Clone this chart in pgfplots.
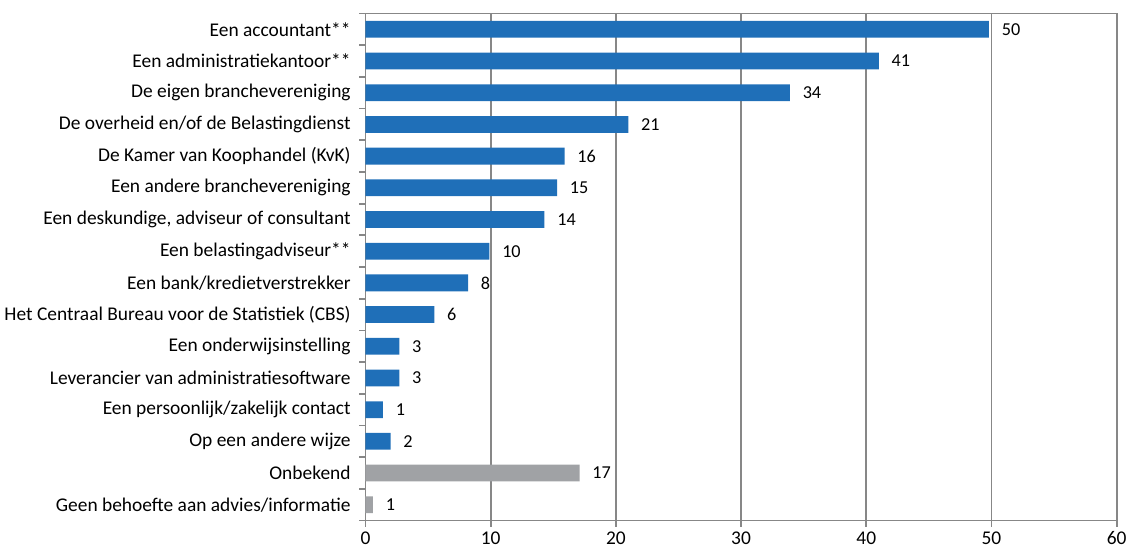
\documentclass[border=0pt]{standalone}
\usepackage{fontspec}
\setmainfont{Carlito}
\usepackage{pgfplots}
\usepackage{pgfplotstable}
\pgfplotsset{compat=1.18}
\definecolor{barblue}{HTML}{1F6FB8}
\definecolor{bargray}{HTML}{A0A2A5}
\definecolor{axgray}{HTML}{878787}
\pgfplotstableread{
y val lab
0 49.8 50
1 41.0 41
2 33.9 34
3 21.0 21
4 15.9 16
5 15.3 15
6 14.3 14
7 9.9 10
8 8.2 8
9 5.5 6
10 2.7 3
11 2.7 3
12 1.4 1
13 2.0 2
}\bluedata
\pgfplotstableread{
y val lab
14 17.1 17
15 0.6 1
}\graydata
\begin{document}
\begin{tikzpicture}
\begin{axis}[
  width=557pt, height=376pt, scale only axis,
  xbar, bar width=0.53, bar shift=0pt,
  xmin=0, xmax=60, ymin=-0.5, ymax=15.5, y dir=reverse,
  xtick={0,10,...,60},
  ytick={0,...,15},
  yticklabels={Een accountant**,Een administratiekantoor**,De eigen branchevereniging,De overheid en/of de Belastingdienst,De Kamer van Koophandel (KvK),Een andere branchevereniging,{Een deskundige, adviseur of consultant},Een belastingadviseur**,Een bank/kredietverstrekker,Het Centraal Bureau voor de Statistiek (CBS),Een onderwijsinstelling,Leverancier van administratiesoftware,Een persoonlijk/zakelijk contact,Op een andere wijze,Onbekend,Geen behoefte aan advies/informatie},
  minor ytick={-0.5,0.5,...,15.5},
  major y tick style={draw=none},
  minor tick length=4.5pt, major tick length=4.5pt,
  tick align=outside,
  x tick style={axgray, line width=1.3pt},
  minor y tick style={axgray, line width=1.3pt},
  xtick pos=bottom, ytick pos=left,
  xmajorgrids, major x grid style={axgray, line width=1.3pt},
  axis line style={axgray, line width=1.3pt},
  ticklabel style={font=\fontsize{14.4}{16}\selectfont, text=black},
  yticklabel style={xshift=-3pt},
  /pgf/number format/assume math mode=true,
  nodes near coords, point meta=explicit symbolic,
  every node near coord/.append style={anchor=west, xshift=6pt, font=\fontsize{13.5}{15}\selectfont, text=black},
]
\addplot[fill=barblue, draw=none] table[x=val, y=y, meta=lab] {\bluedata};
\addplot[fill=bargray, draw=none] table[x=val, y=y, meta=lab] {\graydata};
\end{axis}
\path (current axis.north) ++(0,10pt) coordinate (topextra);
\path (topextra) -- (topextra);
\end{tikzpicture}
\end{document}
